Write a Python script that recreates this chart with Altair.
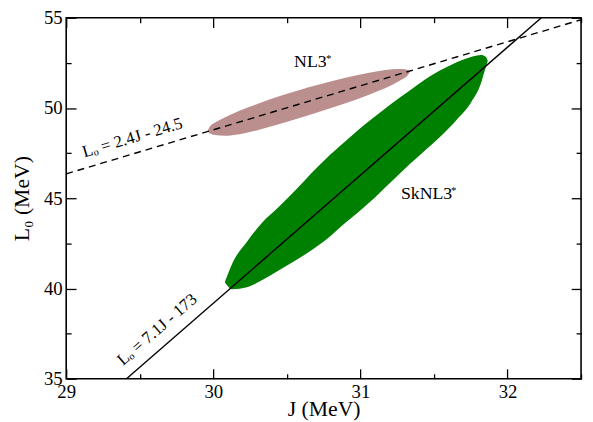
import altair as alt
import pandas as pd

# ---- data ----
# NL3* region: J values with upper / lower L0 bounds
nl3_J = [29.961, 29.977, 30.010, 30.077, 30.178, 30.312, 30.480, 30.648, 30.816, 30.983, 31.117, 31.218, 31.285, 31.319, 31.336]
nl3_top = [48.74, 48.98, 49.18, 49.47, 49.84, 50.26, 50.73, 51.15, 51.51, 51.83, 52.04, 52.14, 52.16, 52.12, 51.99]
nl3_bot = [48.74, 48.58, 48.50, 48.46, 48.55, 48.80, 49.18, 49.60, 50.04, 50.50, 50.93, 51.29, 51.59, 51.78, 51.99]

# SkNL3* region
sk_J = [30.078, 30.129, 30.229, 30.330, 30.444, 30.558, 30.665, 30.766, 30.900, 31.001, 31.101, 31.215, 31.336, 31.437, 31.537, 31.658, 31.752, 31.819, 31.853, 31.866]
sk_top = [40.35, 41.39, 42.59, 43.63, 44.51, 45.44, 46.37, 47.19, 48.17, 48.89, 49.54, 50.26, 50.97, 51.57, 52.06, 52.55, 52.83, 52.94, 52.83, 52.61]
sk_bot = [40.35, 39.96, 40.07, 40.46, 41.00, 41.55, 42.10, 42.70, 43.66, 44.34, 45.06, 45.95, 46.89, 47.63, 48.37, 49.38, 50.31, 51.35, 52.28, 52.61]

# fit lines (end points)
dash_J = [29.0, 32.5]
dash_L = [46.35, 54.89]
solid_J = [29.41, 32.23]
solid_L = [35.0, 55.0]

# axis ticks
x_major = [29, 30, 31, 32]
x_minor = [29.5, 30.5, 31.5, 32.5]
y_major = [35, 40, 45, 50, 55]
y_minor = [37.5, 42.5, 47.5, 52.5]

# annotations
labels = ["NL3", "*", "SkNL3", "*"]
label_J = [30.66, 30.785, 31.45, 31.635]
label_L = [52.52, 52.72, 45.22, 45.42]
label_size = [18, 11, 18, 11]

eq_text = ["Lₒ = 2.4J - 24.5", "Lₒ = 7.1J - 173"]
eq_J = [29.451, 29.619]
eq_L = [48.34, 37.72]
eq_angle = [343.3, 319.0]

FONT = "Liberation Serif"
xs = alt.Scale(domain=[29, 32.5], nice=False, zero=False)
ys = alt.Scale(domain=[35, 55], nice=False, zero=False)


def ax(values, size, labels=True, title=None, orient="bottom", pad=5, tpad=0):
    kw = dict(values=values, tickSize=size, offset=-size, domain=False, grid=False,
              labels=labels, orient=orient, tickColor="black", tickWidth=1.3,
              labelFont=FONT, labelFontSize=19, labelColor="black", labelPadding=pad,
              labelFlush=False, labelOverlap=False)
    if title is not None:
        kw.update(title=title, titleFont=FONT, titleFontSize=22, titleFontWeight="normal",
                  titleColor="black", titlePadding=tpad)
    else:
        kw.update(title=None)
    return alt.Axis(**kw)


nl3_df = pd.DataFrame({"J": nl3_J, "top": nl3_top, "bot": nl3_bot})
sk_df = pd.DataFrame({"J": sk_J, "top": sk_top, "bot": sk_bot})
dash_df = pd.DataFrame({"J": dash_J, "L": dash_L})
solid_df = pd.DataFrame({"J": solid_J, "L": solid_L})
lab_df = pd.DataFrame({"t": labels, "J": label_J, "L": label_L, "s": label_size})
eq_df = pd.DataFrame({"t": eq_text, "J": eq_J, "L": eq_L, "a": eq_angle})

nl3 = alt.Chart(nl3_df).mark_area(color="#BC8F8F", interpolate="monotone").encode(
    x=alt.X("J:Q", scale=xs, axis=ax(x_major, 10, True, "J (MeV)", "bottom", 4, -3)),
    y=alt.Y("top:Q", scale=ys, axis=ax(y_major, 10, True, "L₀ (MeV)", "left", 4, 10)),
    y2="bot:Q",
)

sk = alt.Chart(sk_df).mark_area(color="#008000", interpolate="monotone").encode(
    x=alt.X("J:Q", scale=xs, axis=ax(x_minor, 5, False, None, "bottom")),
    y=alt.Y("top:Q", scale=ys, axis=ax(y_minor, 5, False, None, "left")),
    y2="bot:Q",
)

dash = alt.Chart(dash_df).mark_line(color="black", strokeDash=[7, 5], strokeWidth=1.4).encode(
    x=alt.X("J:Q", scale=xs, axis=ax(x_major, 10, False, None, "top")),
    y=alt.Y("L:Q", scale=ys, axis=ax(y_major, 10, False, None, "right")),
)

solid = alt.Chart(solid_df).mark_line(color="black", strokeWidth=1.4).encode(
    x=alt.X("J:Q", scale=xs, axis=ax(x_minor, 5, False, None, "top")),
    y=alt.Y("L:Q", scale=ys, axis=ax(y_minor, 5, False, None, "right")),
)

labs = alt.Chart(lab_df).mark_text(font=FONT, color="black", align="center", baseline="middle").encode(
    x=alt.X("J:Q", scale=xs, axis=None),
    y=alt.Y("L:Q", scale=ys, axis=None),
    text="t:N",
    size=alt.Size("s:Q", scale=None, legend=None),
)

eqs = alt.Chart(eq_df).mark_text(font=FONT, fontSize=17, color="black", align="center", baseline="middle").encode(
    x=alt.X("J:Q", scale=xs, axis=None),
    y=alt.Y("L:Q", scale=ys, axis=None),
    text="t:N",
    angle=alt.Angle("a:Q", scale=None),
)

chart = alt.layer(nl3, sk, dash, solid, labs, eqs).resolve_axis(
    x="independent", y="independent"
).properties(
    width=522, height=366,
    autosize=alt.AutoSizeParams(type="none"),
    padding={"left": 59, "top": 7, "right": 4, "bottom": 41},
    background="white",
).configure_view(stroke="black", strokeWidth=1.6)

chart.save("out.html", embed_options={"renderer": "svg", "actions": False})
